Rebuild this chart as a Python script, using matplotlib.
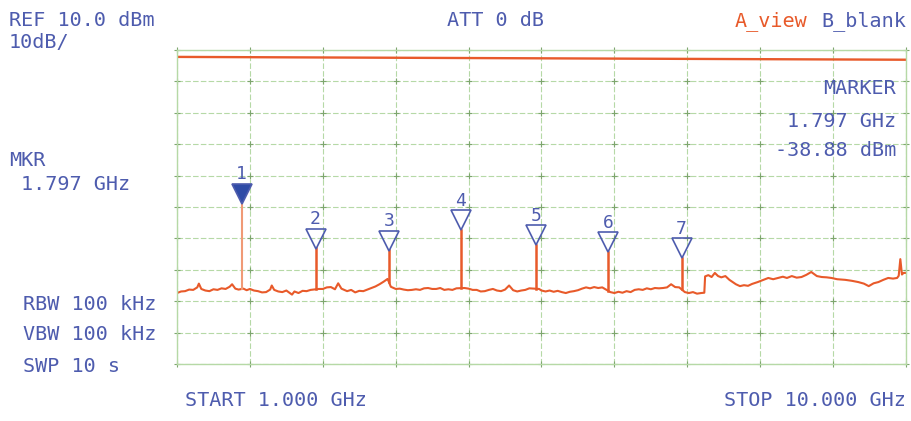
import numpy as np
import matplotlib
matplotlib.use("Agg")
from matplotlib import pyplot as plt
from matplotlib import transforms

# trace (GHz, dBm)
floor_ghz = [1.00, 1.05, 1.10, 1.15, 1.20, 1.25, 1.27, 1.30, 1.35, 1.40, 1.45, 1.50, 1.55, 1.60, 1.65,
             1.68, 1.72, 1.76, 1.82, 1.86, 1.90, 1.95, 2.00, 2.05, 2.10, 2.15, 2.17, 2.20, 2.25, 2.30,
             2.35, 2.42, 2.45, 2.50, 2.55, 2.60, 2.65, 2.75, 2.80, 2.85, 2.90, 2.95, 2.99, 3.03, 3.10,
             3.15, 3.20, 3.25, 3.30, 3.35, 3.40, 3.45, 3.50, 3.55, 3.60, 3.64, 3.70, 3.75, 3.80, 3.85,
             3.90, 3.95, 4.00, 4.05, 4.10, 4.15, 4.20, 4.25, 4.30, 4.35, 4.40, 4.45, 4.55, 4.60, 4.65,
             4.70, 4.75, 4.80, 4.85, 4.90, 4.95, 5.00, 5.05, 5.10, 5.15, 5.20, 5.25, 5.30, 5.35, 5.47,
             5.50, 5.55, 5.60, 5.65, 5.70, 5.75, 5.80, 5.85, 5.90, 5.95, 6.00, 6.05, 6.10, 6.15, 6.20,
             6.25, 6.35, 6.40, 6.45, 6.50, 6.55, 6.60, 6.65, 6.70, 6.75, 6.80, 6.85, 6.90, 6.95, 7.00,
             7.05, 7.10, 7.15, 7.20, 7.27, 7.32, 7.37, 7.42, 7.47, 7.51, 7.52, 7.56, 7.60, 7.64, 7.68,
             7.72, 7.77, 7.82, 7.86, 7.90, 7.95, 8.00, 8.05, 8.10, 8.17, 8.23, 8.30, 8.36, 8.42, 8.48,
             8.53, 8.59, 8.65, 8.71, 8.77, 8.83, 8.90, 8.96, 9.02, 9.08, 9.15, 9.25, 9.33, 9.41, 9.48,
             9.54, 9.60, 9.66, 9.72, 9.78, 9.84, 9.89, 9.91, 9.93, 9.95, 9.97, 10.00]
floor_dbm = [-67.4, -66.9, -66.8, -66.3, -66.4, -65.6, -64.4, -66.1, -66.6, -66.8, -66.2, -66.4, -65.9, -66.1, -65.4,
             -64.6, -66.0, -66.3, -66.0, -66.5, -66.1, -66.6, -66.8, -67.2, -67.1, -66.3, -65.0, -66.4, -66.9, -67.1,
             -66.6, -67.9, -66.9, -67.4, -66.7, -66.8, -66.4, -66.1, -66.1, -65.6, -65.5, -66.2, -64.3, -66.0, -66.8,
             -66.4, -67.2, -66.7, -66.8, -66.3, -65.8, -65.3, -64.6, -63.8, -62.9, -65.4, -66.1, -66.0, -66.3, -66.5,
             -66.4, -66.2, -66.4, -65.9, -65.8, -66.1, -66.1, -65.8, -66.4, -66.2, -66.4, -65.9, -65.8, -66.0, -66.4,
             -66.4, -66.9, -66.8, -66.4, -66.1, -66.6, -66.8, -66.3, -65.0, -66.5, -66.9, -66.6, -66.4, -65.9, -66.1,
             -66.6, -66.9, -66.6, -67.0, -66.7, -67.1, -67.4, -67.0, -66.8, -66.5, -66.0, -65.6, -65.9, -65.5, -65.8,
             -65.6, -67.1, -67.4, -67.0, -67.3, -66.8, -67.1, -66.4, -66.2, -66.4, -65.9, -66.2, -65.8, -65.9, -65.8,
             -65.6, -64.6, -65.5, -65.6, -67.1, -67.4, -67.1, -67.6, -67.4, -67.3, -62.1, -61.7, -62.3, -61.0, -62.0,
             -62.4, -62.0, -63.2, -63.9, -64.6, -65.2, -64.9, -65.1, -64.5, -63.9, -63.3, -62.6, -63.0, -62.6, -62.2,
             -62.6, -62.0, -62.5, -62.3, -61.6, -60.7, -62.0, -62.3, -62.4, -62.6, -63.0, -63.2, -63.5, -63.9, -64.4,
             -65.2, -64.3, -63.9, -63.2, -62.6, -62.8, -62.6, -61.9, -56.6, -61.5, -61.0, -61.0]

# spurious markers
marker_num = ["1", "2", "3", "4", "5", "6", "7"]
marker_ghz = [1.797, 2.71, 3.617, 4.505, 5.43, 6.32, 7.23]
marker_dbm = [-38.88, -53.1, -53.7, -47.3, -52.1, -54.3, -56.2]

# the flat trace near the reference level
top_ghz = [1.0, 10.0]
top_dbm = [7.8, 6.9]

blue = "#4e5cae"
orange = "#e85a2a"
green = "#b6d9a6"
mono = "DejaVu Sans Mono"

fig = plt.figure(figsize=(9.12, 4.21), dpi=100)
ax = fig.add_axes([177 / 912, 1 - 364 / 421, 729 / 912, 314 / 421])
ax.set_xlim(1, 10)
ax.set_ylim(-90, 10)
ax.set_xticks(np.linspace(1, 10, 11))
ax.set_yticks(np.linspace(-90, 10, 11))
ax.tick_params(length=0, labelbottom=False, labelleft=False)
ax.grid(True, color=green, lw=0.8, ls=(0, (5, 2)))
for s in ax.spines.values():
    s.set_color(green)
    s.set_linewidth(1.0)
gx, gy = np.meshgrid(np.linspace(1, 10, 11), np.linspace(-90, 10, 11))
ax.plot(gx.ravel(), gy.ravel(), ls="none", marker="+", ms=4, mew=0.8, color="#7ea66e", clip_on=False)

ax.plot(top_ghz, top_dbm, color=orange, lw=1.7)
ax.plot(floor_ghz, floor_dbm, color=orange, lw=1.5)

base = np.interp(marker_ghz, floor_ghz, floor_dbm)
shift = transforms.ScaledTranslation(0, 0.095, fig.dpi_scale_trans)
label_shift = transforms.ScaledTranslation(0, 0.29, fig.dpi_scale_trans)
for i in range(len(marker_ghz)):
    c = "#f09a76" if i == 0 else orange
    ax.plot([marker_ghz[i], marker_ghz[i]], [base[i], marker_dbm[i]], color=c, lw=1.8 if i else 1.5)
    ax.plot(marker_ghz[i], marker_dbm[i], marker="v", ms=14.5, mew=1.2, mec=blue,
            mfc="#2f4ba6" if i == 0 else "none", transform=ax.transData + shift)
    ax.text(marker_ghz[i], marker_dbm[i], marker_num[i], color=blue, family=mono, fontsize=13,
            ha="center", va="center", transform=ax.transData + label_shift)


def label(x, y, s, ha="left", color=blue, size=14.5):
    fig.text(x / 912, 1 - y / 421, s, ha=ha, va="center", color=color, family=mono, fontsize=size)


label(9, 21, "REF 10.0 dBm")
label(9, 43, "10dB/")
label(496, 21, "ATT 0 dB", ha="center")
label(735, 21, "A_view", color=orange)
label(821, 21, "B_blank")
label(9, 161, "MKR")
label(21, 184, "1.797 GHz")
label(896, 88, "MARKER", ha="right")
label(896, 121, "1.797 GHz", ha="right")
label(896, 151, "-38.88 dBm", ha="right")
label(23, 305, "RBW 100 kHz")
label(23, 335, "VBW 100 kHz")
label(23, 367, "SWP 10 s")
label(185, 400, "START 1.000 GHz")
label(906, 401, "STOP 10.000 GHz", ha="right")

fig.savefig("out.png", dpi=100)
